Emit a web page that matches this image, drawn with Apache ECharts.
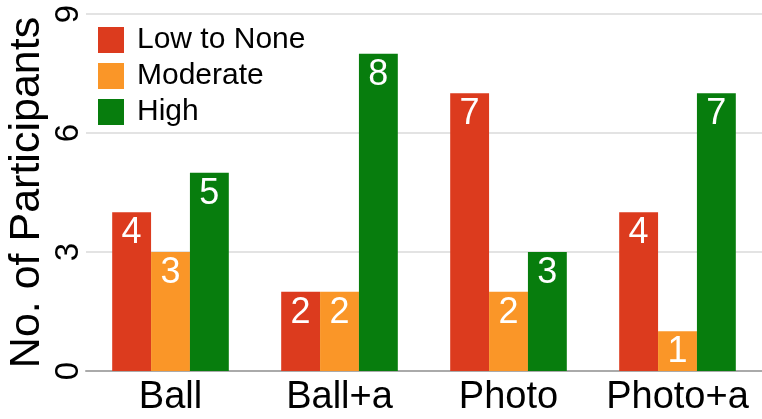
<!DOCTYPE html>
<html>
<head>
<meta charset="utf-8">
<script src="https://cdn.jsdelivr.net/npm/echarts@6/dist/echarts.min.js"></script>
<style>
  html, body { margin: 0; padding: 0; background: #fff; }
  #chart { width: 762px; height: 419px; }
</style>
</head>
<body>
<div id="chart"></div>
<script>
var categories = ['Ball', 'Ball+a', 'Photo', 'Photo+a']
var lowToNone = [4, 2, 7, 4]
var moderate = [3, 2, 2, 1]
var high = [5, 8, 3, 7]
var yTicks = [0, 3, 6, 9]

var font = 'Liberation Sans, Arial, sans-serif'

function barSeries (name, data) {
  return {
    name: name,
    type: 'bar',
    data: data,
    barGap: 0,
    barCategoryGap: '31%',
    label: {
      show: true,
      position: 'insideTop',
      distance: 3,
      color: '#fff',
      fontFamily: font,
      fontSize: 36
    }
  }
}

var chart = echarts.init(document.getElementById('chart'))
chart.setOption({
  animation: false,
  color: ['#dc3b1e', '#fa9628', '#077d0d'],
  grid: { left: 86, right: 0, top: 14, bottom: 48, outerBoundsMode: 'none', containLabel: false },
  legend: {
    orient: 'vertical',
    left: 93,
    top: 20,
    itemWidth: 26,
    itemHeight: 26,
    itemGap: 6,
    icon: 'rect',
    textStyle: {
      fontFamily: font,
      fontSize: 30,
      color: '#000',
      padding: [0, 0, 0, 8]
    }
  },
  xAxis: {
    type: 'category',
    data: categories,
    axisTick: { show: false },
    axisLine: { lineStyle: { color: '#aaa', width: 2 } },
    axisLabel: {
      interval: 0,
      color: '#000',
      fontFamily: font,
      fontSize: 38,
      margin: 8
    }
  },
  yAxis: {
    type: 'value',
    min: yTicks[0],
    max: yTicks[yTicks.length - 1],
    interval: 3,
    name: 'No. of Participants',
    nameLocation: 'middle',
    nameRotate: 90,
    nameGap: 37,
    nameMoveOverlap: false,
    nameTextStyle: { color: '#000', fontFamily: font, fontSize: 43 },
    axisLine: { show: false },
    axisTick: { show: false },
    axisLabel: {
      rotate: 90,
      color: '#000',
      fontFamily: font,
      fontSize: 33,
      margin: 1
    },
    splitLine: { lineStyle: { color: '#e3e3e3', width: 2 } }
  },
  series: [
    barSeries('Low to None', lowToNone),
    barSeries('Moderate', moderate),
    barSeries('High', high)
  ]
})
</script>
</body>
</html>
